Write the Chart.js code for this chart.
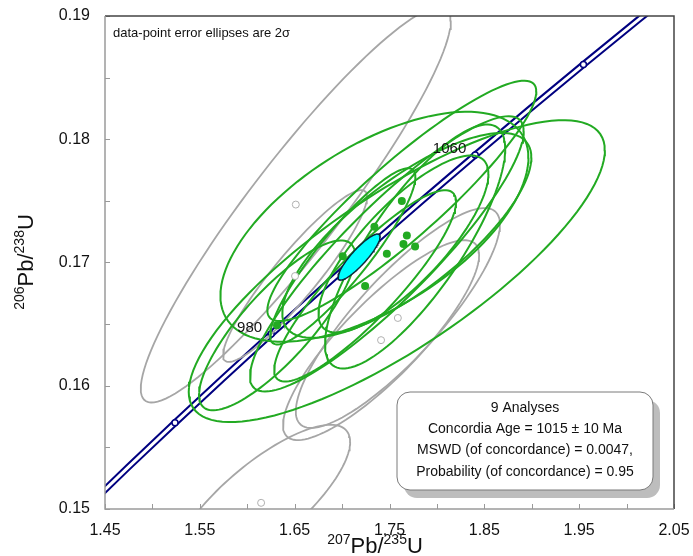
<!DOCTYPE html>
<html>
<head>
<meta charset="utf-8">
<script src="https://cdn.jsdelivr.net/npm/chart.js@4.4.1/dist/chart.umd.min.js"></script>
<style>
  html, body { margin: 0; padding: 0; background: #fff; }
</style>
</head>
<body>
<canvas id="concordia" width="693" height="556"></canvas>
<script>
// axis ticks
const xTickVals = [1.45, 1.50, 1.55, 1.60, 1.65, 1.70, 1.75, 1.80, 1.85, 1.90, 1.95, 2.00, 2.05];
const xLabelVals = [1.45, 1.55, 1.65, 1.75, 1.85, 1.95, 2.05];
const xLabels = ['1.45', '1.55', '1.65', '1.75', '1.85', '1.95', '2.05'];
const yTickVals = [0.150, 0.155, 0.160, 0.165, 0.170, 0.175, 0.180, 0.185, 0.190];
const yLabelVals = [0.15, 0.16, 0.17, 0.18, 0.19];
const yLabels = ['0.15', '0.16', '0.17', '0.18', '0.19'];

// concordia curve (age in Ma, 207Pb/235U, 206Pb/238U)
const concAges = [900, 920, 940, 960, 980, 1000, 1020, 1040, 1060, 1080, 1100, 1120, 1140];
const concX = [1.4264, 1.4746, 1.5238, 1.5740, 1.6252, 1.6774, 1.7307, 1.7850, 1.8404, 1.8969, 1.9545, 2.0133, 2.0732];
const concY = [0.14983, 0.15340, 0.15699, 0.16058, 0.16419, 0.16780, 0.17143, 0.17507, 0.17872, 0.18239, 0.18606, 0.18975, 0.19344];
const markerAges = [940, 980, 1020, 1060, 1100];
const labelAges = [980, 1060];

// analyses used in the age (green): plotted centres
const grnX = [1.7630, 1.7341, 1.7683, 1.7647, 1.7770, 1.7472, 1.7007, 1.7243, 1.6314];
const grnY = [0.1750, 0.1729, 0.1722, 0.1715, 0.1713, 0.1707, 0.1705, 0.1681, 0.1649];
// green error ellipses: centre, 2s errors, error correlation
const grnEllX = [1.7630, 1.7341, 1.7683, 1.7647, 1.7770, 1.7472, 1.7007, 1.7243, 1.6314, 1.7577];
const grnEllY = [0.1750, 0.1729, 0.1722, 0.1715, 0.1713, 0.1707, 0.1705, 0.1681, 0.1649, 0.16930];
const grnErrX = [0.1418, 0.1624, 0.1313, 0.0896, 0.0950, 0.1443, 0.0766, 0.0959, 0.0823, 0.2194];
const grnErrY = [0.00975, 0.00933, 0.00831, 0.00718, 0.00990, 0.01117, 0.00715, 0.00776, 0.00689, 0.01225];
const grnRho = [0.91, 0.60, 0.76, 0.79, 0.80, 0.89, 0.90, 0.88, 0.82, 0.80];

// rejected analyses (grey)
const gryX = [1.6512, 1.6504, 1.6146, 1.7588, 1.7411];
const gryY = [0.1747, 0.1689, 0.1505, 0.1655, 0.1637];
const gryErrX = [0.1635, 0.0759, 0.0939, 0.1076, 0.1034];
const gryErrY = [0.01606, 0.00697, 0.00633, 0.00892, 0.00811];
const gryRho = [0.93, 0.92, 0.78, 0.85, 0.85];

// concordia age ellipse
const ageX = 1.7179, ageY = 0.17044, ageErrX = 0.0222, ageErrY = 0.00187, ageRho = 0.88;

const infoLines = [
  '9 Analyses',
  'Concordia Age = 1015 \u00b1 10 Ma',
  'MSWD (of concordance) = 0.0047,',
  'Probability (of concordance) = 0.95'
];

const FONT = '"Liberation Sans", Arial, sans-serif';
const GREEN = '#22aa22';
const GREY = '#a6a6a6';
const NAVY = '#000080';

function ellipsePts(cx, cy, ex, ey, r) {
  const pts = [];
  const s = Math.sqrt(1 - r * r);
  for (let i = 0; i <= 120; i++) {
    const t = i / 120 * 2 * Math.PI;
    pts.push({ x: cx + ex * Math.cos(t), y: cy + ey * (r * Math.cos(t) + s * Math.sin(t)) });
  }
  return pts;
}

function lineSet(data, color, width, order) {
  return { data: data, showLine: true, borderColor: color, borderWidth: width,
           pointRadius: 0, fill: false, tension: 0, clip: 0, order: order };
}

const datasets = [];
const concData = concX.map((x, i) => ({ x: x, y: concY[i] }));
datasets.push(lineSet(concData, NAVY, 7, 10));
datasets.push(lineSet(concData, '#ffffff', 3, 9));
datasets.push({
  data: markerAges.map(a => { const i = concAges.indexOf(a); return { x: concX[i], y: concY[i] }; }),
  pointRadius: 3, pointBackgroundColor: '#fff', pointBorderColor: NAVY, pointBorderWidth: 1.5,
  clip: 0, order: 8
});
gryX.forEach((x, i) => datasets.push(lineSet(ellipsePts(x, gryY[i], gryErrX[i], gryErrY[i], gryRho[i]), GREY, 1.8, 7)));
grnEllX.forEach((x, i) => datasets.push(lineSet(ellipsePts(x, grnEllY[i], grnErrX[i], grnErrY[i], grnRho[i]), GREEN, 2, 6)));
datasets.push({
  data: gryX.map((x, i) => ({ x: x, y: gryY[i] })),
  pointRadius: 3.5, pointBackgroundColor: '#fff', pointBorderColor: '#b0b0b0', pointBorderWidth: 1,
  clip: 0, order: 3
});
datasets.push({
  data: grnX.map((x, i) => ({ x: x, y: grnY[i] })),
  pointRadius: 4, pointBackgroundColor: GREEN, pointBorderColor: GREEN, pointBorderWidth: 0,
  clip: 0, order: 2
});
datasets.push({
  data: ellipsePts(ageX, ageY, ageErrX, ageErrY, ageRho), showLine: true, pointRadius: 0,
  borderColor: '#0a2a3a', borderWidth: 1.5, backgroundColor: '#00ffff', fill: 'shape',
  tension: 0, clip: 0, order: 1
});

function labelOf(v, vals, labels) {
  const i = vals.findIndex(t => Math.abs(t - v) < 1e-6);
  return i >= 0 ? labels[i] : '';
}

function drawRich(ctx, parts, cx, base) {
  let w = 0;
  parts.forEach(p => { ctx.font = (p.sup ? 14 : 22) + 'px ' + FONT; w += ctx.measureText(p.t).width; });
  let x = cx - w / 2;
  ctx.textAlign = 'left';
  ctx.textBaseline = 'alphabetic';
  parts.forEach(p => {
    ctx.font = (p.sup ? 14 : 22) + 'px ' + FONT;
    ctx.fillText(p.t, x, p.sup ? base - 9 : base);
    x += ctx.measureText(p.t).width;
  });
}

function roundRect(ctx, x, y, w, h, r) {
  ctx.beginPath();
  ctx.moveTo(x + r, y);
  ctx.arcTo(x + w, y, x + w, y + h, r);
  ctx.arcTo(x + w, y + h, x, y + h, r);
  ctx.arcTo(x, y + h, x, y, r);
  ctx.arcTo(x, y, x + w, y, r);
  ctx.closePath();
}

const decorPlugin = {
  id: 'decor',
  afterDraw(chart) {
    const ctx = chart.ctx;
    const a = chart.chartArea;
    const xs = chart.scales.x, ys = chart.scales.y;
    ctx.save();

    // inner tick marks
    ctx.strokeStyle = '#999';
    ctx.lineWidth = 1;
    xTickVals.forEach(v => {
      const px = Math.round(xs.getPixelForValue(v)) + 0.5;
      ctx.beginPath(); ctx.moveTo(px, a.bottom); ctx.lineTo(px, a.bottom - 5); ctx.stroke();
    });
    yTickVals.forEach(v => {
      const py = Math.round(ys.getPixelForValue(v)) + 0.5;
      ctx.beginPath(); ctx.moveTo(a.left, py); ctx.lineTo(a.left + 5, py); ctx.stroke();
    });

    // frame
    ctx.lineWidth = 1.5;
    ctx.strokeStyle = '#444';
    ctx.beginPath(); ctx.moveTo(a.left, a.top); ctx.lineTo(a.right, a.top); ctx.lineTo(a.right, a.bottom); ctx.stroke();
    ctx.strokeStyle = '#9a9a9a';
    ctx.beginPath(); ctx.moveTo(a.left, a.top); ctx.lineTo(a.left, a.bottom); ctx.lineTo(a.right, a.bottom); ctx.stroke();

    // concordia age labels
    ctx.fillStyle = '#111';
    ctx.font = '15px ' + FONT;
    ctx.textAlign = 'right';
    ctx.textBaseline = 'middle';
    labelAges.forEach(age => {
      const i = concAges.indexOf(age);
      ctx.fillText(String(age), xs.getPixelForValue(concX[i]) - 9, ys.getPixelForValue(concY[i]) - 6);
    });

    // note
    ctx.font = '13px ' + FONT;
    ctx.textAlign = 'left';
    ctx.fillText('data-point error ellipses are 2\u03c3', a.left + 8, a.top + 17);

    // result box
    const bx = 397, by = 392, bw = 256, bh = 98;
    ctx.fillStyle = '#bdbdbd';
    roundRect(ctx, bx + 7, by + 8, bw, bh, 13); ctx.fill();
    ctx.fillStyle = '#fff';
    roundRect(ctx, bx, by, bw, bh, 13); ctx.fill();
    ctx.strokeStyle = '#7a7a7a'; ctx.lineWidth = 1;
    ctx.stroke();
    ctx.fillStyle = '#111';
    ctx.font = '14px ' + FONT;
    ctx.textAlign = 'center';
    infoLines.forEach((t, i) => ctx.fillText(t, bx + bw / 2, by + 16 + i * 21.3));

    // axis titles with superscripts
    ctx.fillStyle = '#111';
    drawRich(ctx, [{ t: '207', sup: true }, { t: 'Pb/' }, { t: '235', sup: true }, { t: 'U' }], 375, 553);
    ctx.translate(33, 262);
    ctx.rotate(-Math.PI / 2);
    drawRich(ctx, [{ t: '206', sup: true }, { t: 'Pb/' }, { t: '238', sup: true }, { t: 'U' }], 0, 0);
    ctx.restore();
  }
};

new Chart(document.getElementById('concordia'), {
  type: 'scatter',
  data: { datasets: datasets },
  options: {
    responsive: false,
    animation: false,
    events: [],
    layout: { padding: { left: 0, top: 16, right: 19, bottom: 0 } },
    plugins: { legend: { display: false }, tooltip: { enabled: false } },
    scales: {
      x: {
        type: 'linear', min: 1.45, max: 2.05,
        afterBuildTicks: s => { s.ticks = xTickVals.map(v => ({ value: v })); },
        afterFit: s => { s.height = 47; s.paddingLeft = 0; s.paddingRight = 0; },
        ticks: { autoSkip: false, maxRotation: 0, padding: 12, color: '#111',
                 font: { family: FONT, size: 16 }, callback: v => labelOf(v, xLabelVals, xLabels) },
        grid: { display: false, drawTicks: false },
        border: { display: false }
      },
      y: {
        type: 'linear', min: 0.15, max: 0.19,
        afterBuildTicks: s => { s.ticks = yTickVals.map(v => ({ value: v })); },
        afterFit: s => { s.width = 105; s.paddingTop = 0; s.paddingBottom = 0; },
        ticks: { autoSkip: false, padding: 15, color: '#111',
                 font: { family: FONT, size: 16 }, callback: v => labelOf(v, yLabelVals, yLabels) },
        grid: { display: false, drawTicks: false },
        border: { display: false }
      }
    }
  },
  plugins: [decorPlugin]
});
</script>
</body>
</html>
